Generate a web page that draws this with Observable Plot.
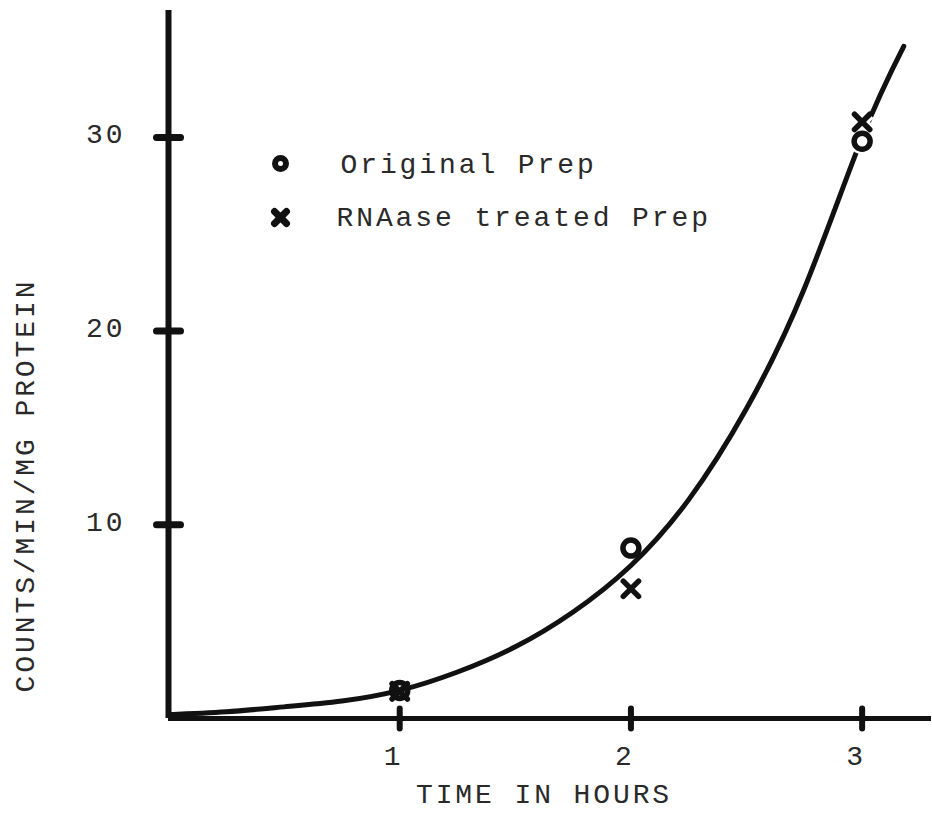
<!DOCTYPE html>
<html>
<head>
<meta charset="utf-8">
<script src="https://cdn.jsdelivr.net/npm/d3@7"></script>
<script src="https://cdn.jsdelivr.net/npm/@observablehq/plot@0.6"></script>
<style>
  body { margin: 0; background: #fff; }
</style>
</head>
<body>
<div id="chart"></div>
<script>
// Incorporation time course: measured points for both preparations
const hours = [1, 2, 3];
const originalPrep = [1.45, 8.8, 29.8];
const rnaaseTreated = [1.4, 6.7, 30.8];

// Hand-drawn fitted curve, read along its length
const curveHours  = [0, 0.25, 0.5, 0.75, 1, 1.25, 1.5, 1.75, 2, 2.25, 2.5, 2.75, 3, 3.18];
const curveCounts = [0.2, 0.35, 0.6, 0.9, 1.45, 2.4, 3.7, 5.5, 7.9, 11.3, 16.0, 22.2, 30.0, 34.7];

// Axis ticks and texts
const xTicks = [1, 2, 3];
const yTicks = [10, 20, 30];
const xLabel = "TIME IN HOURS";
const yLabel = "COUNTS/MIN/MG PROTEIN";
const seriesNames = ["Original Prep", "RNAase treated Prep"];

const original = hours.map((h, i) => ({hour: h, counts: originalPrep[i]}));
const treated = hours.map((h, i) => ({hour: h, counts: rnaaseTreated[i]}));
const curve = curveHours.map((h, i) => ({hour: h, counts: curveCounts[i]}));
const lastHour = hours[hours.length - 1];

// Short bar symbols for the crossing tick marks
const vbar = {draw(ctx, size) { const r = Math.sqrt(size / Math.PI); ctx.moveTo(0, -r); ctx.lineTo(0, r); }};
const hbar = {draw(ctx, size) { const r = Math.sqrt(size / Math.PI); ctx.moveTo(-r, 0); ctx.lineTo(r, 0); }};

const font = "'Liberation Mono', 'DejaVu Sans Mono', monospace";
const ink = "#111";
const typeInk = "#2a2a2a";
const typeStyle = {fontFamily: font, fontSize: 28, fill: typeInk};

const chart = Plot.plot({
  width: 932,
  height: 813,
  marginLeft: 168,
  marginRight: 1,
  marginTop: 10,
  marginBottom: 95,
  x: {domain: [0, 3.3], axis: null},
  y: {domain: [0, 36.55], axis: null},
  style: "background: #fff; letter-spacing: 2.9px;",
  marks: [
    // axes
    Plot.ruleY([0], {stroke: ink, strokeWidth: 5}),
    Plot.ruleX([0], {stroke: ink, strokeWidth: 6}),
    Plot.dot(xTicks, {x: d => d, y: 0, symbol: vbar, r: 10, fill: "none", stroke: ink, strokeWidth: 6, strokeLinecap: "round"}),
    Plot.dot(yTicks, {x: 0, y: d => d, symbol: hbar, r: 12, fill: "none", stroke: ink, strokeWidth: 7, strokeLinecap: "round"}),

    // tick labels
    Plot.text(xTicks, {x: d => d, y: 0, text: d => String(d), dy: 38, dx: -6, ...typeStyle}),
    Plot.text(yTicks, {x: 0, y: d => d, text: d => String(d), textAnchor: "end", dx: -43, dy: -3, ...typeStyle}),

    // axis titles
    Plot.text([xLabel], {frameAnchor: "bottom", textAnchor: "middle", lineAnchor: "middle", dx: -6, dy: 76, ...typeStyle}),
    Plot.text([yLabel], {frameAnchor: "left", textAnchor: "middle", lineAnchor: "middle", rotate: -90, dx: -143, dy: 121, ...typeStyle}),

    // fitted curve
    Plot.line(curve, {x: "hour", y: "counts", curve: "natural", stroke: ink, strokeWidth: 5, strokeLinecap: "round"}),

    // white break in the curve around the last pair of points
    Plot.dot(original.filter(d => d.hour === lastHour), {x: "hour", y: "counts", r: 8, fill: "#fff", stroke: "#fff", strokeWidth: 10}),
    Plot.dot(treated.filter(d => d.hour === lastHour), {x: "hour", y: "counts", symbol: "times", r: 7, stroke: "#fff", strokeWidth: 11}),

    // measured points
    Plot.dot(original, {x: "hour", y: "counts", r: 8, fill: "none", stroke: ink, strokeWidth: 5.5}),
    Plot.dot(treated, {x: "hour", y: "counts", symbol: "times", r: 7, stroke: ink, strokeWidth: 5.5, strokeLinecap: "round"}),

    // legend
    Plot.dot([seriesNames[0]], {frameAnchor: "top-left", dx: 112, dy: 153, r: 5.5, fill: "none", stroke: ink, strokeWidth: 6}),
    Plot.dot([seriesNames[1]], {frameAnchor: "top-left", dx: 112, dy: 207, symbol: "times", r: 5.5, stroke: ink, strokeWidth: 7, strokeLinecap: "round"}),
    Plot.text([seriesNames[0]], {frameAnchor: "top-left", textAnchor: "start", lineAnchor: "middle", dx: 172, dy: 154, text: d => d, ...typeStyle}),
    Plot.text([seriesNames[1]], {frameAnchor: "top-left", textAnchor: "start", lineAnchor: "middle", dx: 168, dy: 207, text: d => d, ...typeStyle})
  ]
});

document.getElementById("chart").appendChild(chart);
</script>
</body>
</html>
